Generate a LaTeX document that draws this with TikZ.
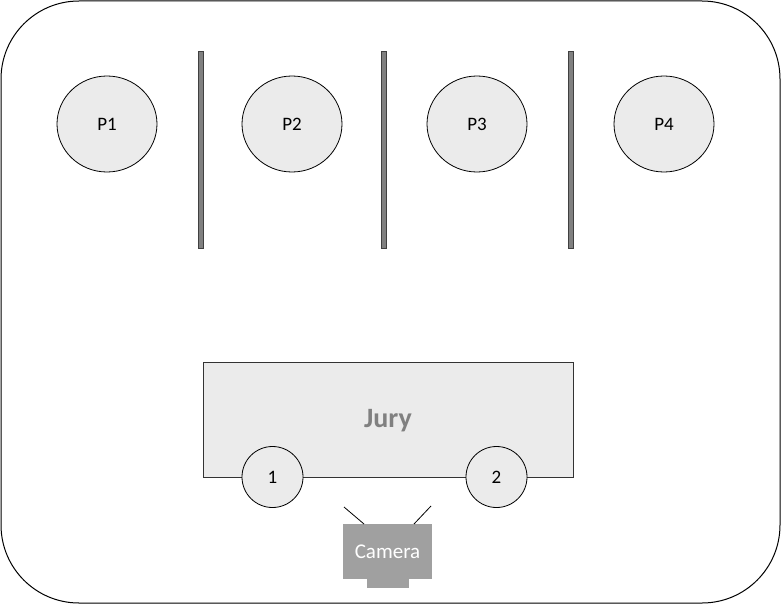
\documentclass[tikz,border=0pt]{standalone}
\usepackage{fontspec}
\setmainfont{Carlito}
\usetikzlibrary{shapes.geometric}
\definecolor{lightfill}{HTML}{EBEBEB}
\definecolor{wallgray}{HTML}{808080}
\definecolor{jurytext}{HTML}{808080}
\definecolor{camgray}{HTML}{A0A0A0}
\begin{document}
\begin{tikzpicture}[x=1pt,y=-1pt,
  person/.style={ellipse,draw=black,line width=0.8pt,fill=lightfill,minimum width=100pt,minimum height=96pt,inner sep=0pt,font=\fontsize{19}{22}\selectfont},
  seat/.style={circle,draw=black,line width=0.8pt,fill=lightfill,minimum size=61pt,inner sep=0pt,font=\fontsize{19}{22}\selectfont},
  wall/.style={draw=black!75,line width=0.6pt,fill=wallgray},
  cam/.style={fill=camgray,draw=none}]
\useasboundingbox (0,0) rectangle (781,604);
\draw[line width=1pt,rounded corners=78pt] (1,1) rectangle (780,603);
\node[person] (p1) at (107,124) {P1};
\node[person] (p2) at (292,124) {P2};
\node[person] (p3) at (477,124) {P3};
\node[person] (p4) at (664,124) {P4};
\draw[wall] (198,51) rectangle (203,248);
\draw[wall] (381,51) rectangle (386,248);
\draw[wall] (568,51) rectangle (573,248);
\node[draw=black!80,line width=0.8pt,fill=lightfill,minimum width=370pt,minimum height=115pt,inner sep=0pt] (jury) at (388,419.5) {};
\node[text=jurytext,font=\bfseries\fontsize{28}{32}\selectfont] (jurylabel) at (388,421) {Jury};
\node[seat] (s1) at (272.5,477) {1};
\node[seat] (s2) at (496.5,477) {2};
\fill[cam] (367,575) rectangle (409,588);
\node[cam,minimum width=89pt,minimum height=55pt,inner sep=0pt,text=white,font=\fontsize{21}{24}\selectfont] (camera) at (387.5,551.5) {Camera};
\coordinate (l1) at (344,507);
\coordinate (l2) at (431,506);
\draw[line width=0.8pt] (l1) -- (364,524);
\draw[line width=0.8pt] (l2) -- (414,524);
\end{tikzpicture}
\end{document}
